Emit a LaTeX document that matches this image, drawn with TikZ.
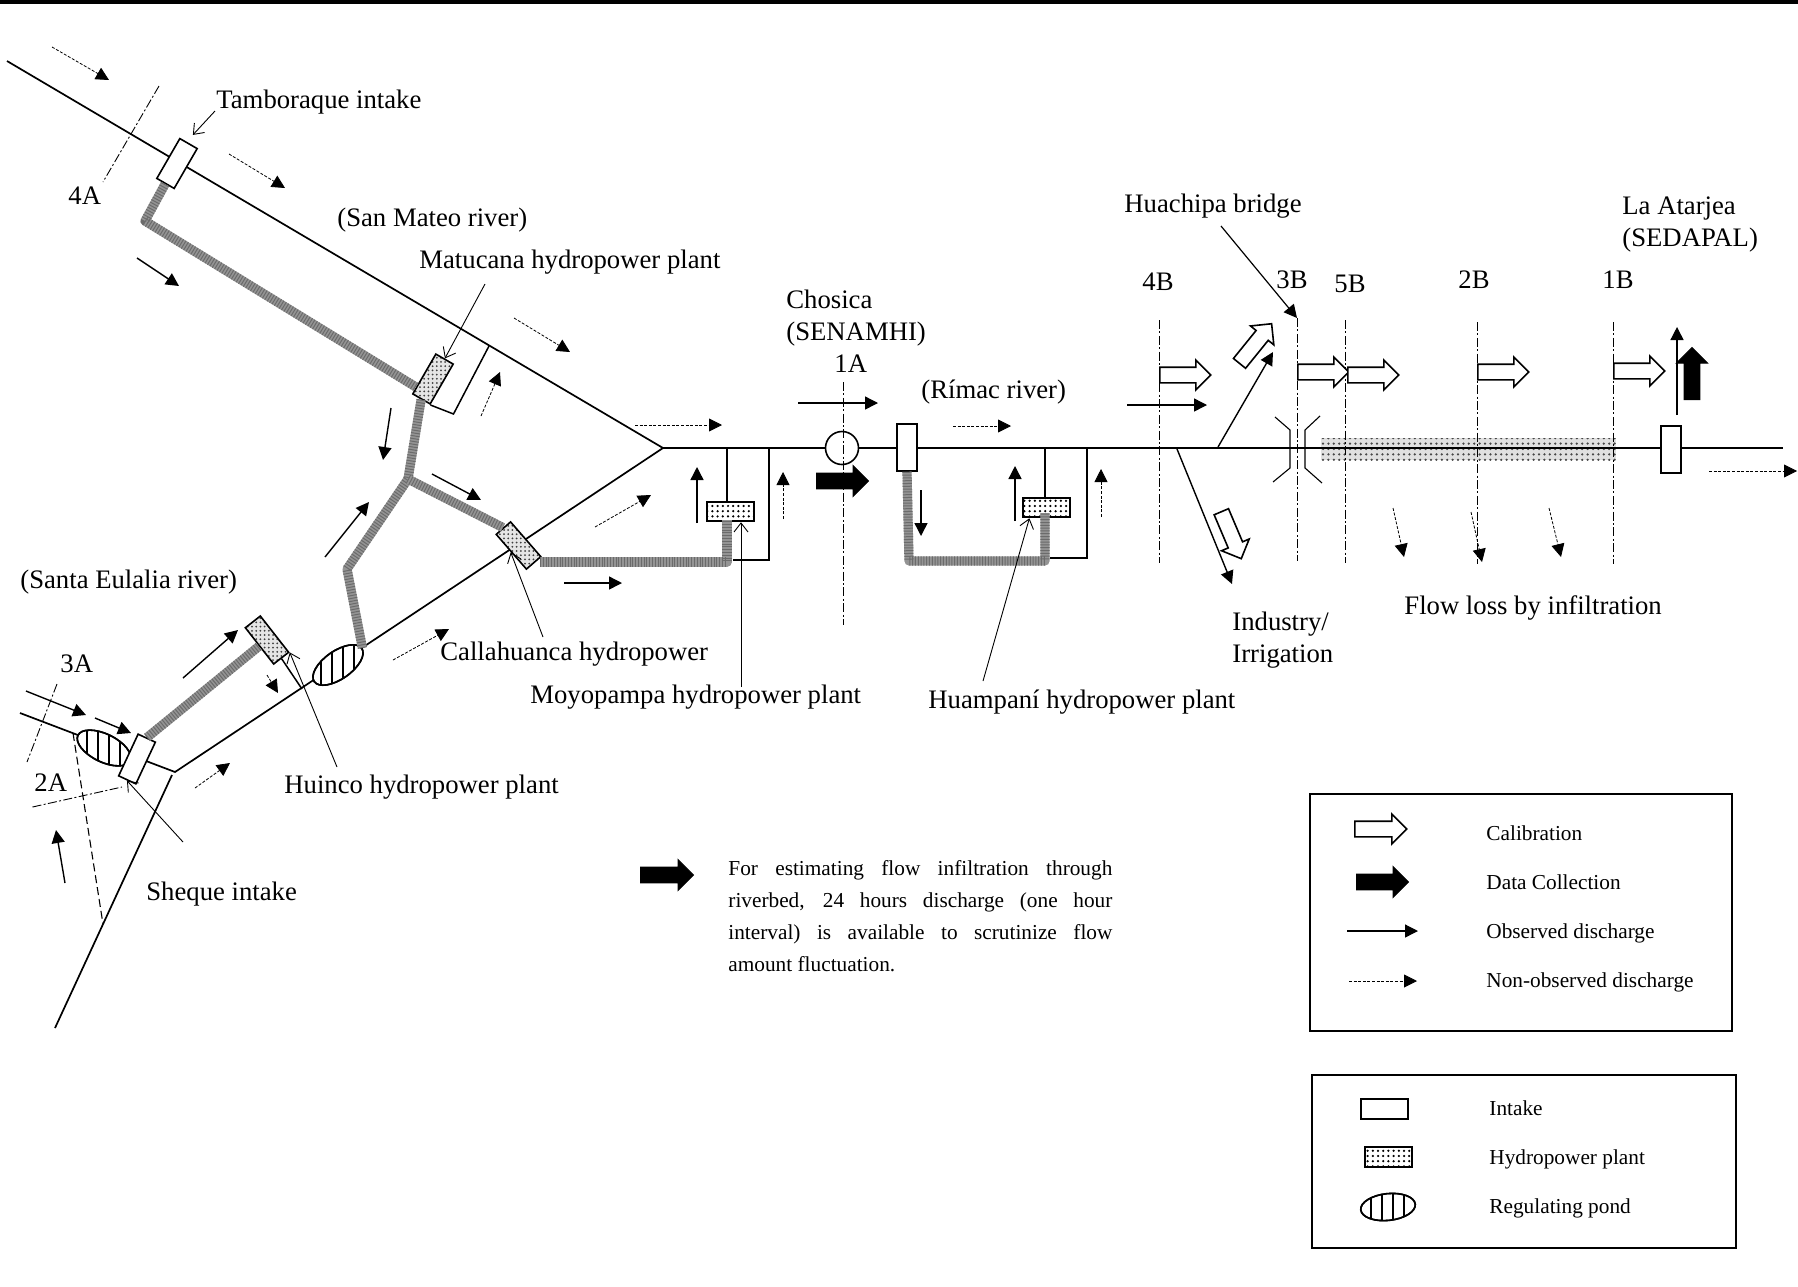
\documentclass[tikz,border=0pt]{standalone}
\usepackage{fontspec}
\setmainfont{Liberation Serif}
\usetikzlibrary{arrows.meta,calc,patterns.meta,shapes.geometric,shapes.arrows}
\tikzset{
  river/.style={line width=.85pt,black},
  thinline/.style={line width=.75pt,black},
  obs/.style={line width=.7pt,-{Triangle[length=6.5pt,width=6.5pt]}},
  nobs/.style={line width=.4pt,dash pattern=on 1.5pt off .8pt,-{Triangle[length=6.5pt,width=6.5pt]}},
  leader/.style={line width=.45pt,-{Straight Barb[length=4.5pt,width=7pt]}},
  secline/.style={line width=.45pt,dash pattern=on 4.5pt off 1.2pt on 1pt off 1.2pt},
  pipe/.style={draw=black!58,line width=4.6pt,line join=round,dash pattern=on .5pt off .9pt,
     preaction={draw=black!42,solid,line width=4.6pt,line join=round}},
  intake/.style={draw,line width=.8pt,fill=white,inner sep=0,rectangle,minimum width=10pt,minimum height=23pt},
  plantrot/.style={draw,line width=.8pt,rectangle,inner sep=0,minimum width=10pt,minimum height=23pt,
     preaction={fill=black!10},pattern={Dots[distance=2.1pt,radius=.5pt]},pattern color=black!75},
  plantflat/.style={draw,line width=.95pt,rectangle,inner sep=0,minimum width=23.5pt,minimum height=9.8pt,
     preaction={fill=white},pattern={Dots[distance=2.6pt,radius=.62pt]},pattern color=black},
  pondshape/.style={draw,line width=.8pt,ellipse,inner sep=0},
  calib/.style={single arrow,draw,fill=white,line width=.8pt,inner xsep=0,inner ysep=3.5pt,anchor=tail,
     minimum width=14.5pt,single arrow head extend=3.6pt,single arrow tip angle=90},
  datacol/.style={single arrow,draw,fill=black,line width=.5pt,inner xsep=0,inner ysep=3.7pt,anchor=tail,
     minimum width=15pt,single arrow head extend=3.8pt,single arrow tip angle=90},
  lbl/.style={font=\fontsize{13.35}{16}\selectfont,inner sep=0,anchor=base west},
  leg/.style={font=\fontsize{10.65}{13}\selectfont,inner sep=0,anchor=base west},
  legbox/.style={draw,line width=.85pt},
}
\newcommand{\flow}[5]{\coordinate (fa#2x#3) at (#2,#3);\coordinate (fb#4x#5) at (#4,#5);\draw[#1] (fa#2x#3) -- (fb#4x#5);}
\newcommand{\pondstripes}[6]{% name x y rx(pt) ry(pt) angle
  \node[pondshape,fill=white,minimum width=#4pt*2,minimum height=#5pt*2,rotate=#6] (#1) at (#2,#3) {};
  \begin{scope}[shift={(#2,#3)}]
    \begin{scope}
      \clip[rotate=#6] (0,0) ellipse [x radius=#4pt,y radius=#5pt];
      \foreach \d in {-17,-6,5,16} \draw[line width=1.1pt] (\d,-30) -- (\d,30);
    \end{scope}
  \end{scope}}
\begin{document}
\begin{tikzpicture}[x=.5pt,y=-.5pt]
\useasboundingbox (0,0) rectangle (1798,1286);
\fill[white] (0,0) rectangle (1798,1286);
\fill[black] (0,0) rectangle (1798,4);
% river points
\coordinate (sm0) at (7,61);
\coordinate (conf) at (663,448);
\coordinate (se0) at (20,713);
\coordinate (sejn) at (175,772);
\coordinate (bot0) at (55,1028);
\coordinate (bot1) at (172,775);
\coordinate (rimacend) at (1783,448);
% infiltration band
\path[preaction={fill=black!12},pattern={Dots[distance=2.7pt,radius=.62pt]},pattern color=black!72] (1321,438) rectangle (1616,460);
\draw[river] (sm0) -- (conf) -- (sejn) -- (se0);
\draw[river] (bot0) -- (bot1);
\draw[river] (conf) -- (rimacend);
% structures
\node[intake,rotate=-30] (T) at (177,163.5) {};
\node[plantrot,rotate=-30] (M) at (433,379) {};
\node[plantrot,rotate=-49,minimum width=23pt,minimum height=9.5pt] (C) at (518.5,545.5) {};
\node[plantrot,rotate=-52,minimum width=23pt,minimum height=9.5pt] (H) at (267,640) {};
\node[intake,rotate=0,minimum height=23.5pt] (I1) at (907,447.5) {};
\node[intake,rotate=0,minimum height=23.5pt] (I2) at (1671,449.5) {};
\node[draw,line width=.8pt,circle,fill=white,minimum size=16.5pt,inner sep=0] (Ch) at (842,448) {};
\pondstripes{P1}{104}{748}{14.5}{7}{-26}
\pondstripes{P2}{338}{665}{14.5}{7}{35}
\node[pondshape,minimum width=29pt,minimum height=14pt,rotate=-26] at (P1) {};
\node[pondshape,minimum width=29pt,minimum height=14pt,rotate=35] at (P2) {};
\node[intake,rotate=-25,minimum width=9.5pt] (S) at (137,759) {};
\node[plantflat] (Mo) at (730.5,511.5) {};
\node[plantflat] (Hu) at (1046.5,507.5) {};
% returns from plants to the river
\coordinate (mr) at (489,346);
\coordinate (mb) at (453.5,414);
\draw[thinline] (M.south east) -- (mb) -- (mr);
\coordinate (hr) at (302,689);
\draw[thinline] (H.east) -- (hr);
\coordinate (mo1) at (727,448);
\coordinate (mo2) at (769,448);
\coordinate (mo3) at (769,560);
\coordinate (mo4) at (733,560);
\draw[thinline] (mo1) -- (mo1 |- Mo.north);
\draw[thinline] (mo2) -- (mo3) -- (mo4);
\coordinate (hu1) at (1045,447);
\coordinate (hu2) at (1087,447);
\coordinate (hu3) at (1087,558);
\coordinate (hu4) at (1050,558);
\draw[thinline] (hu1) -- (hu1 |- Hu.north);
\draw[thinline] (hu2) -- (hu3) -- (hu4);
% penstocks
\coordinate (tb) at (145,221);
\coordinate (J) at (408,479);
\coordinate (jb) at (347,569);
\coordinate (cp) at (540,562);
\coordinate (cq) at (727,562);
\coordinate (cm) at (727,520);
\coordinate (ip) at (909,561);
\coordinate (iq) at (1045,561);
\coordinate (ir) at (1045,513);
\draw[pipe] (T.south) -- (tb) -- ($(M.west)!.65!(M.south west)$);
\draw[pipe] (M.south) -- (J) -- (jb) -- (P2.east);
\draw[pipe] (J) -- (C.west);
\draw[pipe] (cp) -- (cq) -- (cm);
\draw[pipe] (I1.south) -- (ip) -- (iq) -- (ir);
\draw[pipe] (S.north) -- (H.south);
% section lines
\coordinate (a1t) at (843,382); \coordinate (a1b) at (843,625);
\coordinate (a4t) at (159,86);  \coordinate (a4b) at (103,182);
\coordinate (a3t) at (57,684);  \coordinate (a3b) at (27,762);
\coordinate (a2t) at (32.5,807); \coordinate (a2b) at (122,787);
\coordinate (b4t) at (1159,320); \coordinate (b4b) at (1159,563);
\coordinate (b3t) at (1297,318); \coordinate (b3b) at (1297,561);
\coordinate (b5t) at (1345,320); \coordinate (b5b) at (1345,563);
\coordinate (b2t) at (1477,322); \coordinate (b2b) at (1477,564);
\coordinate (b1t) at (1613,322); \coordinate (b1b) at (1613,564);
\foreach \s in {a1,a4,a3,a2,b4,b3,b5,b2,b1} \draw[secline] (\s t) -- (\s b);
\coordinate (dl0) at (73,733);
\coordinate (dl1) at (103,924);
\draw[line width=.55pt,dash pattern=on 4pt off 2pt] (dl0) -- (dl1);
% bridge
\coordinate (bl1) at (1275,417); \coordinate (bl2) at (1290,430); \coordinate (bl3) at (1290,468); \coordinate (bl4) at (1273,482);
\coordinate (br1) at (1320,416); \coordinate (br2) at (1305,430); \coordinate (br3) at (1305,468); \coordinate (br4) at (1322,483);
\draw[line width=.55pt] (bl1) -- (bl2) -- (bl3) -- (bl4);
\draw[line width=.55pt] (br1) -- (br2) -- (br3) -- (br4);
% branches at the end
\coordinate (ub) at (1218,447); \coordinate (ube) at (1273,352);
\coordinate (db) at (1177,449); \coordinate (dbe) at (1232,584);
\draw[obs] (ub) -- (ube);
\draw[obs] (db) -- (dbe);
% observed discharge
\flow{obs}{137}{258}{179}{286}
\flow{obs}{391}{408}{383}{460}
\flow{obs}{432}{474}{481}{500}
\flow{obs}{325}{557}{369}{502}
\flow{obs}{564}{583}{622}{583}
\flow{obs}{697}{523}{697}{467}
\flow{obs}{798}{403}{878}{403}
\flow{obs}{921}{490}{921}{536}
\flow{obs}{1015}{521}{1015}{466}
\flow{obs}{1127}{405}{1207}{405}
\flow{obs}{1677}{415}{1677}{327}
\flow{obs}{26}{691}{86}{715}
\flow{obs}{95}{718}{131}{733}
\flow{obs}{65}{883}{56}{830}
\flow{obs}{183}{678}{238}{630}
% non-observed discharge
\flow{nobs}{52}{47}{109}{80}
\flow{nobs}{229}{154}{285}{188}
\flow{nobs}{514}{318}{570}{352}
\flow{nobs}{481}{416}{500}{372}
\flow{nobs}{635}{425}{722}{425}
\flow{nobs}{595}{527}{651}{495}
\flow{nobs}{783}{519}{783}{472}
\flow{nobs}{393}{660}{449}{629}
\flow{nobs}{953}{426}{1011}{426}
\flow{nobs}{1101}{517}{1101}{469}
\flow{nobs}{195}{788}{230}{763}
\flow{nobs}{267}{675}{278}{693}
\flow{nobs}{1709}{471}{1797}{471}
\flow{nobs}{1393}{508}{1404}{557}
\flow{nobs}{1471}{512}{1482}{562}
\flow{nobs}{1549}{508}{1561}{557}
% calibration arrows
\node[calib,minimum height=25.5pt] (ca1) at (1159,375) {};
\node[calib,minimum height=25.5pt,rotate=51] (ca2) at (1239,364) {};
\node[calib,minimum height=25.5pt,rotate=-67] (ca3) at (1221,511) {};
\node[calib,minimum height=25.5pt] (ca4) at (1297,372) {};
\node[calib,minimum height=25.5pt] (ca5) at (1347,375) {};
\node[calib,minimum height=25.5pt] (ca6) at (1477,372) {};
\node[calib,minimum height=25.5pt] (ca7) at (1613,371) {};
% data collection arrows
\node[datacol,minimum height=26pt] (da1) at (816,481) {};
\node[datacol,minimum height=26pt,rotate=90] (da2) at (1692,400) {};
\node[datacol,minimum height=26.5pt] (da3) at (640,875) {};
% labels
\node[lbl] (tTam) at (216,108) {Tamboraque intake};
\node[lbl] (t4A) at (68,204) {4A};
\node[lbl] (tSM) at (337,226) {(San Mateo river)};
\node[lbl] (tMat) at (419,268) {Matucana hydropower plant};
\node[lbl] (tCh1) at (786,308) {Chosica};
\node[lbl] (tCh2) at (786,340) {(SENAMHI)};
\node[lbl] (t1A) at (834,372) {1A};
\node[lbl] (tRi) at (921,398) {(Rímac river)};
\node[lbl] (tHb) at (1124,212) {Huachipa bridge};
\node[lbl] (t4B) at (1142,290) {4B};
\node[lbl] (t3B) at (1276,288) {3B};
\node[lbl] (t5B) at (1334,292) {5B};
\node[lbl] (t2B) at (1458,288) {2B};
\node[lbl] (t1B) at (1602,288) {1B};
\node[lbl] (tLa1) at (1622,214) {La Atarjea};
\node[lbl] (tLa2) at (1622,246) {(SEDAPAL)};
\node[lbl] (tSE) at (20,588) {(Santa Eulalia river)};
\node[lbl] (t3A) at (60,672) {3A};
\node[lbl] (t2A) at (34,791) {2A};
\node[lbl] (tSh) at (146,900) {Sheque intake};
\node[lbl] (tHui) at (284,793) {Huinco hydropower plant};
\node[lbl] (tCal) at (440,660) {Callahuanca hydropower};
\node[lbl] (tMoy) at (530,703) {Moyopampa hydropower plant};
\node[lbl] (tHua) at (928,708) {Huampaní hydropower plant};
\node[lbl] (tInd1) at (1232,630) {Industry/};
\node[lbl] (tInd2) at (1232,662) {Irrigation};
\node[lbl] (tFl) at (1404,614) {Flow loss by infiltration};
% leaders
\coordinate (lT) at (215,111);
\coordinate (lM) at (485,284);
\coordinate (lC) at (543,637);
\coordinate (lH) at (337,767);
\coordinate (lS) at (183,842);
\coordinate (lMo) at (741,687);
\coordinate (lHu) at (983,681);
\coordinate (lB) at (1221,226);
\draw[leader] (lT) -- ($(T.north)+(4,-8)$);
\draw[leader] (lM) -- (M.north);
\draw[leader] (lC) -- (C.south);
\draw[leader] (lH) -- (H.north east);
\draw[leader] (lS) -- (S.south);
\draw[leader] (lMo) -- (lMo |- Mo.south);
\draw[leader] (lHu) -- ($(Hu.south west)!.15!(Hu.south east)$);
\draw[line width=.6pt,-{Triangle[length=6.5pt,width=6.5pt]}] (lB) -- (b3t);
% note
\node[font=\fontsize{10.65}{16}\selectfont,inner sep=0,anchor=north west,text width=192pt,align=justify] (note) at (728,860) {For estimating flow infiltration through\linebreak riverbed, 24 hours discharge (one hour\linebreak interval) is available to scrutinize flow\linebreak amount fluctuation.};
% legend 1
\node[legbox,minimum width=211pt,minimum height=118.5pt,inner sep=0,anchor=north west] (lg1) at (1309,793) {};
\node[calib,minimum height=26pt] (lgc) at (1354,829) {};
\node[datacol,minimum height=26pt] (lgd) at (1356,882) {};
\coordinate (lo0) at (1347,931); \coordinate (lo1) at (1418,931);
\coordinate (ln0) at (1349,981); \coordinate (ln1) at (1417,981);
\draw[obs,line width=.6pt] (lo0) -- (lo1);
\draw[nobs] (ln0) -- (ln1);
\node[leg] (l1) at (1486,840) {Calibration};
\node[leg] (l2) at (1486,889) {Data Collection};
\node[leg] (l3) at (1486,938) {Observed discharge};
\node[leg] (l4) at (1486,987) {Non-observed discharge};
% legend 2
\node[legbox,minimum width=212pt,minimum height=86.5pt,inner sep=0,anchor=north west] (lg2) at (1311,1074) {};
\node[intake,minimum width=23.5pt,minimum height=10pt] (li) at (1384.5,1109) {};
\node[plantflat] (lh) at (1388.5,1157) {};
\pondstripes{lp}{1388}{1207}{13.7}{6.7}{6}
\node[pondshape,minimum width=27.4pt,minimum height=13.4pt,rotate=6] at (lp) {};
\node[leg] (l5) at (1489,1115) {Intake};
\node[leg] (l6) at (1489,1164) {Hydropower plant};
\node[leg] (l7) at (1489,1213) {Regulating pond};
\end{tikzpicture}
\end{document}
